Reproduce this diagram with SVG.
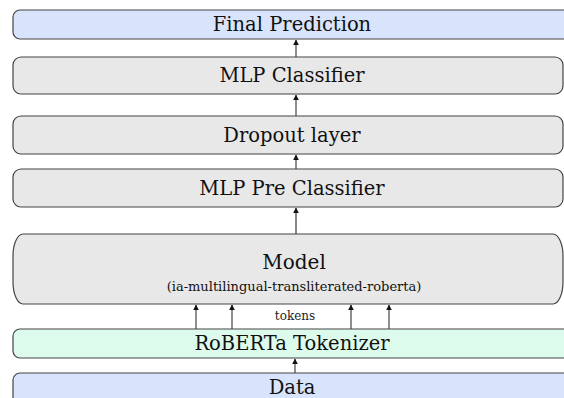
<svg xmlns="http://www.w3.org/2000/svg" width="564" height="398" viewBox="0 0 564 398">
<style>
.box{stroke:#444;stroke-width:1.2}
.blue{fill:#d8e4fb}
.gray{fill:#e8e8e8}
.green{fill:#ddfbec}
.t{font-family:"DejaVu Serif","Liberation Serif",serif;font-size:19.5px;fill:#111;text-anchor:middle}
.s{font-family:"DejaVu Serif","Liberation Serif",serif;font-size:13px;fill:#111;text-anchor:middle}
.lbl{font-family:"DejaVu Serif","Liberation Serif",serif;font-size:12px;fill:#222;text-anchor:middle}
.c{stroke:#333;stroke-width:1.1;fill:none;marker-end:url(#ah)}
</style>
<defs>
<marker id="ah" viewBox="0 0 10 10" refX="9" refY="5" markerWidth="6" markerHeight="6" markerUnits="userSpaceOnUse" orient="auto">
<path d="M0,0 L10,5 L0,10 Z" fill="#111"/>
</marker>
</defs>
<rect width="564" height="398" fill="#fff"/>
<g id="connectors">
<line class="c" x1="296" y1="57" x2="296" y2="40"/>
<line class="c" x1="296" y1="116" x2="296" y2="95"/>
<line class="c" x1="296" y1="169" x2="296" y2="155"/>
<line class="c" x1="296" y1="234" x2="296" y2="208" style="stroke:#555;stroke-width:1.4"/>
<line class="c" x1="196" y1="329" x2="196" y2="305"/>
<line class="c" x1="232" y1="329" x2="232" y2="305"/>
<line class="c" x1="351" y1="329" x2="351" y2="305"/>
<line class="c" x1="389" y1="329" x2="389" y2="305"/>
<text class="lbl" x="295" y="320">tokens</text>
<line class="c" x1="295" y1="373" x2="295" y2="359"/>
</g>
<g id="final-prediction">
<rect class="box blue" x="13" y="10" width="562" height="29" rx="7"/>
<text class="t" x="292" y="31">Final Prediction</text>
</g>
<g id="mlp-classifier">
<rect class="box gray" x="13" y="57" width="550" height="37" rx="8"/>
<text class="t" x="292" y="82">MLP Classifier</text>
</g>
<g id="dropout">
<rect class="box gray" x="13" y="116" width="550" height="38" rx="8"/>
<text class="t" x="292" y="142">Dropout layer</text>
</g>
<g id="mlp-pre-classifier">
<rect class="box gray" x="13" y="169" width="550" height="38" rx="8"/>
<text class="t" x="292" y="195">MLP Pre Classifier</text>
</g>
<g id="model">
<rect class="box gray" x="13" y="234" width="550" height="70" rx="10" ry="22"/>
<text class="t" x="294" y="269" style="font-size:20px">Model</text>
<text class="s" x="294" y="291">(ia-multilingual-transliterated-roberta)</text>
</g>
<g id="tokenizer">
<rect class="box green" x="13" y="329" width="562" height="29" rx="7"/>
<text class="t" x="292" y="350">RoBERTa Tokenizer</text>
</g>
<g id="data">
<rect class="box blue" x="13" y="373" width="562" height="40" rx="7"/>
<text class="t" x="292" y="394">Data</text>
</g>
</svg>
